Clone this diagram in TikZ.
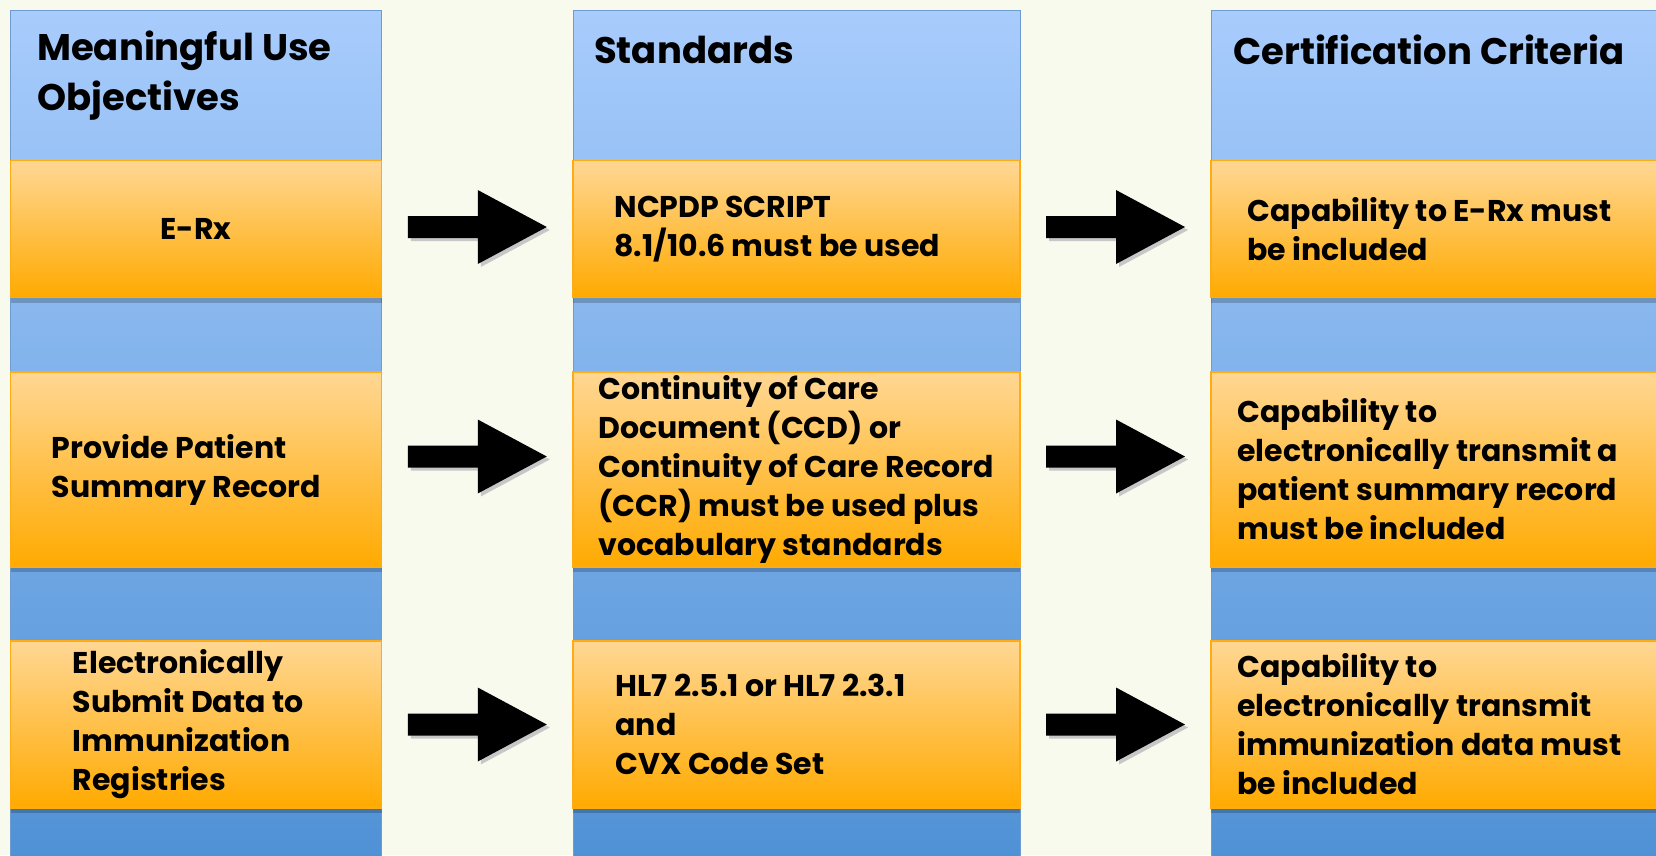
\documentclass[tikz,border=0pt]{standalone}
\usepackage{fontspec}
\setmainfont{Poppins}
\usetikzlibrary{positioning,calc,shadows}

\definecolor{bgcream}{RGB}{248,250,238}
\definecolor{coltop}{RGB}{168,204,252}
\definecolor{colbot}{RGB}{76,143,212}
\definecolor{colline}{RGB}{110,155,210}
\definecolor{boxtop}{RGB}{255,215,148}
\definecolor{boxbot}{RGB}{255,170,0}
\definecolor{boxline}{RGB}{255,172,20}

\tikzset{
  column/.style={draw=colline, line width=1pt, top color=coltop, bottom color=colbot,
    minimum height=880pt, inner sep=0pt},
  box/.style={draw=boxline, line width=1.5pt, top color=boxtop, bottom color=boxbot, inner sep=0pt,
    drop shadow={shadow xshift=0pt, shadow yshift=-5pt, opacity=.2, fill=black}},
  head/.style={font=\fontsize{37}{50}\selectfont\bfseries, align=left, anchor=west, inner sep=0pt},
  txt/.style={font=\fontsize{30}{39}\selectfont\bfseries, align=left, anchor=west, inner sep=0pt},
  blockarrow/.style={fill=black, drop shadow={shadow xshift=3pt, shadow yshift=-3pt, fill=black!22, opacity=1}}
}

\begin{document}
\begin{tikzpicture}[x=1pt, y=-1pt]
  \useasboundingbox (0,0) rectangle (1656,855);
  \clip (0,0) rectangle (1656,855);
  \fill[bgcream] (0,0) rectangle (1656,855);

  % the three columns and their rows
  \foreach \x/\w/\n in {196/371/mu, 796.5/447/std, 1445.5/469/cert} {
    \node[column, minimum width=\w pt] (\n) at (\x,450) {};
    \foreach \y/\h [count=\r] in {229/137, 469.5/195, 724.5/167}
      \node[box, minimum width=\w pt, minimum height=\h pt] (\n\r) at (\x,\y) {};
  }

  \node[head] (h-mu)   at (37,76)   {Meaningful Use\\Objectives};
  \node[head] (h-std)  at (594,50)  {Standards};
  \node[head] (h-cert) at (1233,50) {Certification Criteria};

  \node[txt, anchor=center] (t-mu1) at (mu1) {E-Rx};
  \node[txt, right=42pt of std1.west]  (t-std1)  {NCPDP SCRIPT\\8.1/10.6 must be used};
  \node[txt, right=37pt of cert1.west] (t-cert1) {Capability to E-Rx must\\be included};

  \node[txt, right=42pt of mu2.west]   (t-mu2)   {Provide Patient\\Summary Record};
  \node[txt, right=26pt of std2.west]  (t-std2)  {Continuity of Care\\Document (CCD) or\\Continuity of Care Record\\(CCR) must be used plus\\vocabulary standards};
  \node[txt, right=27pt of cert2.west] (t-cert2) {Capability to\\electronically transmit a\\patient summary record\\must be included};

  \node[txt, right=63pt of mu3.west]   (t-mu3)   {Electronically\\Submit Data to\\Immunization\\Registries};
  \node[txt, right=43pt of std3.west]  (t-std3)  {HL7 2.5.1 or HL7 2.3.1\\and\\CVX Code Set};
  \node[txt, right=27pt of cert3.west] (t-cert3) {Capability to\\electronically transmit\\immunization data must\\be included};

  % block arrows between the columns
  \foreach \r/\dy in {1/-2, 2/-13, 3/0} {
    \coordinate (l\r) at ($(mu\r.east)!.5!(std\r.west)+(0,\dy)$);
    \coordinate (r\r) at ($(std\r.east)!.5!(cert\r.west)+(0,\dy)$);
    \foreach \p in {l\r, r\r}
      \fill[blockarrow] (\p) ++(-69.5,-11) -- ++(70,0) -- ++(0,-26) -- ++(69,37)
        -- ++(-69,37) -- ++(0,-26) -- ++(-70,0) -- cycle;
  }
\end{tikzpicture}
\end{document}
